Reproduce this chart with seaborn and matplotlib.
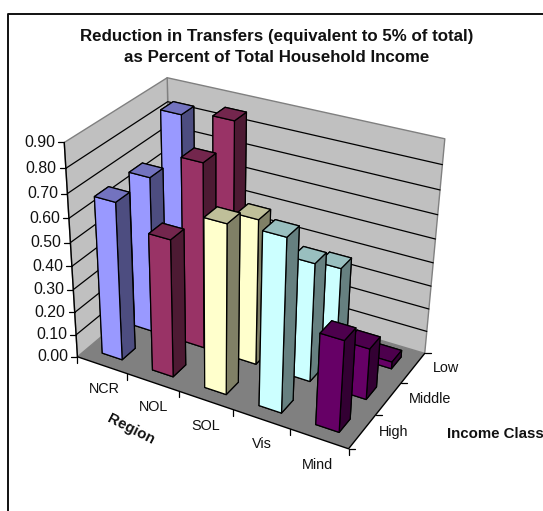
import numpy as np
import pandas as pd
import seaborn as sns
import matplotlib
matplotlib.use("Agg")
import matplotlib.pyplot as plt
from matplotlib.lines import Line2D
from mpl_toolkits.mplot3d import proj3d
from mpl_toolkits.mplot3d.art3d import Poly3DCollection

regions = ["NCR", "NOL", "SOL", "Vis", "Mind"]
income_classes = ["High", "Middle", "Low"]
high_values = [0.675, 0.585, 0.71, 0.72, 0.385]
middle_values = [0.675, 0.79, 0.62, 0.505, 0.22]
low_values = [0.84, 0.865, 0.35, 0.37, 0.03]
series_colors = ["#9999FF", "#993366", "#FFFFCC", "#CCFFFF", "#660066"]
z_ticks = [0.0, 0.1, 0.2, 0.3, 0.4, 0.5, 0.6, 0.7, 0.8, 0.9]

W, H = 543, 511
BAR = 0.4
ZMAX = z_ticks[-1]

sns.set_theme(style="white")
plt.rcParams["font.family"] = ["Liberation Sans", "DejaVu Sans"]

table = pd.DataFrame({"High": high_values, "Middle": middle_values, "Low": low_values},
                     index=regions)
palette = sns.color_palette(series_colors)


def camera_matrix():
    """Perspective camera solved from where the plot box corners land on the canvas."""
    nx, ny = len(regions), len(income_classes)
    anchors = [
        ((0, 0, 0), (80, 357)), ((nx, 0, 0), (348, 449)),
        ((nx, ny, 0), (426, 353)), ((0, ny, 0), (168, 278)),
        ((0, 0, ZMAX), (62, 142)), ((nx, ny, ZMAX), (444, 139)),
        ((0, ny, ZMAX), (170, 78)),
    ]
    rows = []
    for (x, y, z), (u, v) in anchors:
        u, v = u / W, v / H
        rows.append([x, y, z, 1, 0, 0, 0, 0, -u * x, -u * y, -u * z, -u])
        rows.append([0, 0, 0, 0, x, y, z, 1, -v * x, -v * y, -v * z, -v])
    p = np.linalg.svd(np.array(rows, float))[2][-1].reshape(3, 4)
    if p[2] @ np.array([0, 0, 0, 1.0]) < 0:
        p = -p
    p = p / p[2, 3]
    return np.array([p[0], p[2] - p[1], [0, 0, 0, -1.0], p[2]])


fig = plt.figure(figsize=(W / 100, H / 100), dpi=100, facecolor="white")
ax = fig.add_axes([0, 0, 1, 1], projection="3d", computed_zorder=False)
M = camera_matrix()
ax.get_proj = lambda: M
ax.apply_aspect = lambda position=None: None
ax.set_axis_off()
ax.patch.set_visible(False)
ax.set_autoscale_on(False)
ax.viewLim.intervalx = (0, 1)
ax.viewLim.intervaly = (0, 1)

nx, ny = len(regions), len(income_classes)

# floor and the two walls
ax.add_collection3d(Poly3DCollection(
    [[(0, 0, 0), (nx, 0, 0), (nx, ny, 0), (0, ny, 0)]],
    facecolor="#808080", edgecolor="none", zorder=1))
ax.add_collection3d(Poly3DCollection(
    [[(0, 0, 0), (0, ny, 0), (0, ny, ZMAX), (0, 0, ZMAX)],
     [(0, ny, 0), (nx, ny, 0), (nx, ny, ZMAX), (0, ny, ZMAX)]],
    facecolor="#C0C0C0", edgecolor="#808080", linewidth=1.0, zorder=1))

# horizontal gridlines across both walls
for tick in z_ticks[1:-1]:
    ax.plot([0, 0, nx], [0, ny, ny], [tick, tick, tick], color="black", lw=0.9, zorder=2)

# front edges of the floor and the value axis line
ax.plot([0, nx, nx], [0, 0, ny], [0, 0, 0], color="black", lw=1.0, zorder=3)
ax.plot([0, 0], [0, 0], [0, ZMAX], color="black", lw=1.0, zorder=3)


def to_canvas(x, y, z):
    u, v, _ = proj3d.proj_transform(x, y, z, M)
    return float(u) * W, float(v) * H


def tick_mark(x0, y0, dx, dy):
    fig.add_artist(Line2D([x0 / W, (x0 + dx) / W], [y0 / H, (y0 + dy) / H],
                          color="black", lw=0.9, transform=fig.transFigure))


for tick in z_ticks:
    cx, cy = to_canvas(0, 0, tick)
    tick_mark(cx, cy, -6, 0)
    fig.text((cx - 9) / W, cy / H, f"{tick:.2f}", ha="right", va="center",
             fontsize=11.4, color="#111111")
for i in range(nx + 1):
    cx, cy = to_canvas(i, 0, 0)
    tick_mark(cx, cy, 0, -6)
for j in range(ny + 1):
    cx, cy = to_canvas(nx, j, 0)
    tick_mark(cx, cy, 6, 0)

# bars, painted from the far corner towards the viewer
for i, region in enumerate(regions):
    for j, income in enumerate(income_classes):
        base = np.array(palette[i])
        faces = [base * 0.5, base * 0.75, base, base * 0.5, base * 0.5, base * 0.5]
        ax.bar3d(i + 0.5 - BAR / 2, j + 0.5 - BAR / 2, 0, BAR, BAR, table.loc[region, income],
                 color=[tuple(f) for f in faces], shade=False,
                 edgecolor="black", linewidth=0.9, zorder=10 + i + (ny - j))


def canvas_text(x, y, s, **kw):
    fig.text(x / W, 1 - y / H, s, ha="center", va="center", color="#111111", **kw)


canvas_text(277, 36, "Reduction in Transfers (equivalent to 5% of total)", fontsize=12.2, fontweight="bold")
canvas_text(277, 58, "as Percent of Total Household Income", fontsize=12.2, fontweight="bold")

for label, pos in zip(regions, [(104, 389), (153, 407), (206, 426), (262, 444), (317, 465)]):
    canvas_text(*pos, label, fontsize=10.4)
for label, pos in zip(income_classes, [(394, 432), (430, 399), (446, 368)]):
    canvas_text(*pos, label, fontsize=10.4)

canvas_text(131, 429, "Region", fontsize=10.8, fontweight="bold", rotation=-27,
            rotation_mode="anchor")
fig.text(447 / W, 1 - 434 / H, "Income Class", ha="left", va="center",
         fontsize=10.8, fontweight="bold", color="#111111")

# chart area outline, open on the right and at the bottom
fig.add_artist(Line2D([7.5 / W, 7.5 / W, 1], [0, 1 - 14.5 / H, 1 - 14.5 / H],
                      color="#111111", lw=1.4, transform=fig.transFigure))

fig.savefig("out.png", dpi=100, facecolor="white")
